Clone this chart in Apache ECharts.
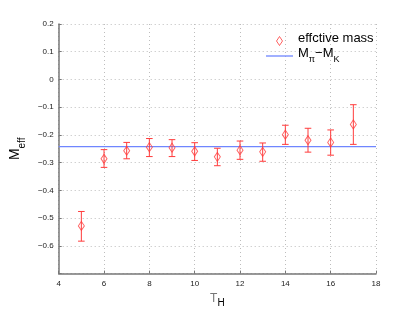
<!DOCTYPE html>
<html>
<head>
<meta charset="utf-8">
<script src="https://cdn.jsdelivr.net/npm/echarts@6/dist/echarts.min.js"></script>
<style>
html,body{margin:0;padding:0;background:#fff;}
#chart{width:415px;height:313px;}
</style>
</head>
<body>
<div id="chart"></div>
<script>
// ---- data ----
const timeSlices = [5, 6, 7, 8, 9, 10, 11, 12, 13, 14, 15, 16, 17];
const effMass    = [-0.528, -0.286, -0.257, -0.244, -0.246, -0.259, -0.279, -0.255, -0.261, -0.199, -0.219, -0.227, -0.162];
const errUpper   = [-0.476, -0.253, -0.227, -0.213, -0.217, -0.228, -0.248, -0.222, -0.229, -0.165, -0.176, -0.182, -0.091];
const errLower   = [-0.583, -0.317, -0.286, -0.278, -0.278, -0.292, -0.311, -0.288, -0.295, -0.234, -0.262, -0.273, -0.234];
const refLineX   = [4, 18];
const refLineY   = [-0.242, -0.242];
const xTicks = {min: 4, max: 18, step: 2};
const yTicks = {min: -0.7, max: 0.2, step: 0.1};

const RED = '#ff3b3b';
const BLUE = '#6f86ff';
const FONT = 'Liberation Sans, Arial, Helvetica, sans-serif';

const chart = echarts.init(document.getElementById('chart'), null, {renderer: 'canvas'});

const scatterData = timeSlices.map((t, i) => [t, effMass[i]]);
const errData = timeSlices.map((t, i) => [t, errLower[i], errUpper[i]]);
const lineData = refLineX.map((x, i) => [x, refLineY[i]]);

const subRich = {
  m: {fontSize: 13, fontFamily: FONT, color: '#000', verticalAlign: 'top', lineHeight: 18},
  s: {fontSize: 9, fontFamily: FONT, color: '#000', verticalAlign: 'top', padding: [8, 0, 0, 0], lineHeight: 18}
};

const option = {
  backgroundColor: '#fff',
  animation: false,
  textStyle: {fontFamily: FONT},
  grid: {left: 54, right: 39, top: 24, bottom: 36, containLabel: false},
  legend: {
    orient: 'vertical',
    left: 261,
    top: 27,
    itemWidth: 27,
    itemHeight: 9,
    itemGap: 1,
    selectedMode: false,
    textStyle: {fontSize: 13, color: '#000', fontFamily: FONT, rich: subRich},
    formatter: function (name) {
      if (name === 'mpk') return '{m|M}{s|π}{m|−M}{s|K}';
      return '{m|effctive mass}';
    },
    data: [
      {name: 'eff', icon: 'path://M3,0L6,4.5L3,9L0,4.5Z', itemStyle: {color: 'rgba(0,0,0,0)', borderColor: RED, borderWidth: 1}},
      {name: 'mpk', icon: 'path://M0,0L27,0L27,1.3L0,1.3Z', itemStyle: {color: BLUE, borderWidth: 0}}
    ]
  },
  xAxis: {
    type: 'value',
    min: xTicks.min, max: xTicks.max, interval: xTicks.step,
    name: 'T{s|H}',
    nameLocation: 'middle',
    nameGap: 13,
    nameTextStyle: {rich: {
      m: {fontSize: 14, fontFamily: FONT, color: '#000'},
      s: {fontSize: 10, fontFamily: FONT, color: '#000', verticalAlign: 'top', padding: [9, 0, 0, 0]}
    }},
    axisLine: {onZero: false, lineStyle: {color: '#777', width: 1.5}},
    axisTick: {inside: true, length: 3, lineStyle: {color: '#777'}},
    axisLabel: {fontSize: 8, color: '#222', margin: 6, fontFamily: FONT},
    splitLine: {show: true, lineStyle: {color: '#bdbdbd', type: [1, 3], width: 1}}
  },
  yAxis: {
    type: 'value',
    min: yTicks.min, max: yTicks.max, interval: yTicks.step,
    name: '{m|M}{s|eff}',
    nameLocation: 'middle',
    nameGap: 28,
    nameRotate: 90,
    nameTextStyle: {rich: {
      m: {fontSize: 14, fontFamily: FONT, color: '#000', verticalAlign: 'top', lineHeight: 20},
      s: {fontSize: 10, fontFamily: FONT, color: '#000', verticalAlign: 'top', padding: [9, 0, 0, 0], lineHeight: 20}
    }},
    axisLine: {onZero: false, lineStyle: {color: '#777', width: 1.5}},
    axisTick: {inside: true, length: 3, lineStyle: {color: '#777'}},
    axisLabel: {
      fontSize: 8, color: '#222', margin: 5, fontFamily: FONT,
      formatter: function (v) {
        if (v < -0.65) return '';
        const r = Math.round(v * 10) / 10;
        return (r === 0 ? '0' : String(r)).replace('-', '−');
      }
    },
    splitLine: {show: true, lineStyle: {color: '#bdbdbd', type: [1, 3], width: 1}}
  },
  series: [
    {
      name: 'mpk',
      type: 'line',
      data: lineData,
      symbol: 'none',
      showSymbol: false,
      lineStyle: {color: BLUE, width: 1.2},
      itemStyle: {color: BLUE},
      z: 1
    },
    {
      name: 'errbars',
      type: 'custom',
      data: errData,
      encode: {x: 0, y: [1, 2]},
      renderItem: function (params, api) {
        const x = api.value(0);
        const lo = api.coord([x, api.value(1)]);
        const hi = api.coord([x, api.value(2)]);
        const hw = 3.3;
        const style = {stroke: RED, lineWidth: 1, fill: null};
        return {
          type: 'group',
          children: [
            {type: 'line', shape: {x1: lo[0], y1: lo[1], x2: hi[0], y2: hi[1]}, style: style},
            {type: 'line', shape: {x1: lo[0] - hw, y1: lo[1], x2: lo[0] + hw, y2: lo[1]}, style: style},
            {type: 'line', shape: {x1: hi[0] - hw, y1: hi[1], x2: hi[0] + hw, y2: hi[1]}, style: style}
          ]
        };
      },
      z: 2
    },
    {
      name: 'eff',
      type: 'scatter',
      data: scatterData,
      symbol: 'path://M3,0L6,4.5L3,9L0,4.5Z',
      symbolSize: [6, 9],
      itemStyle: {color: 'rgba(0,0,0,0)', borderColor: RED, borderWidth: 1},
      z: 3
    }
  ]
};
chart.setOption(option);
</script>
</body>
</html>
